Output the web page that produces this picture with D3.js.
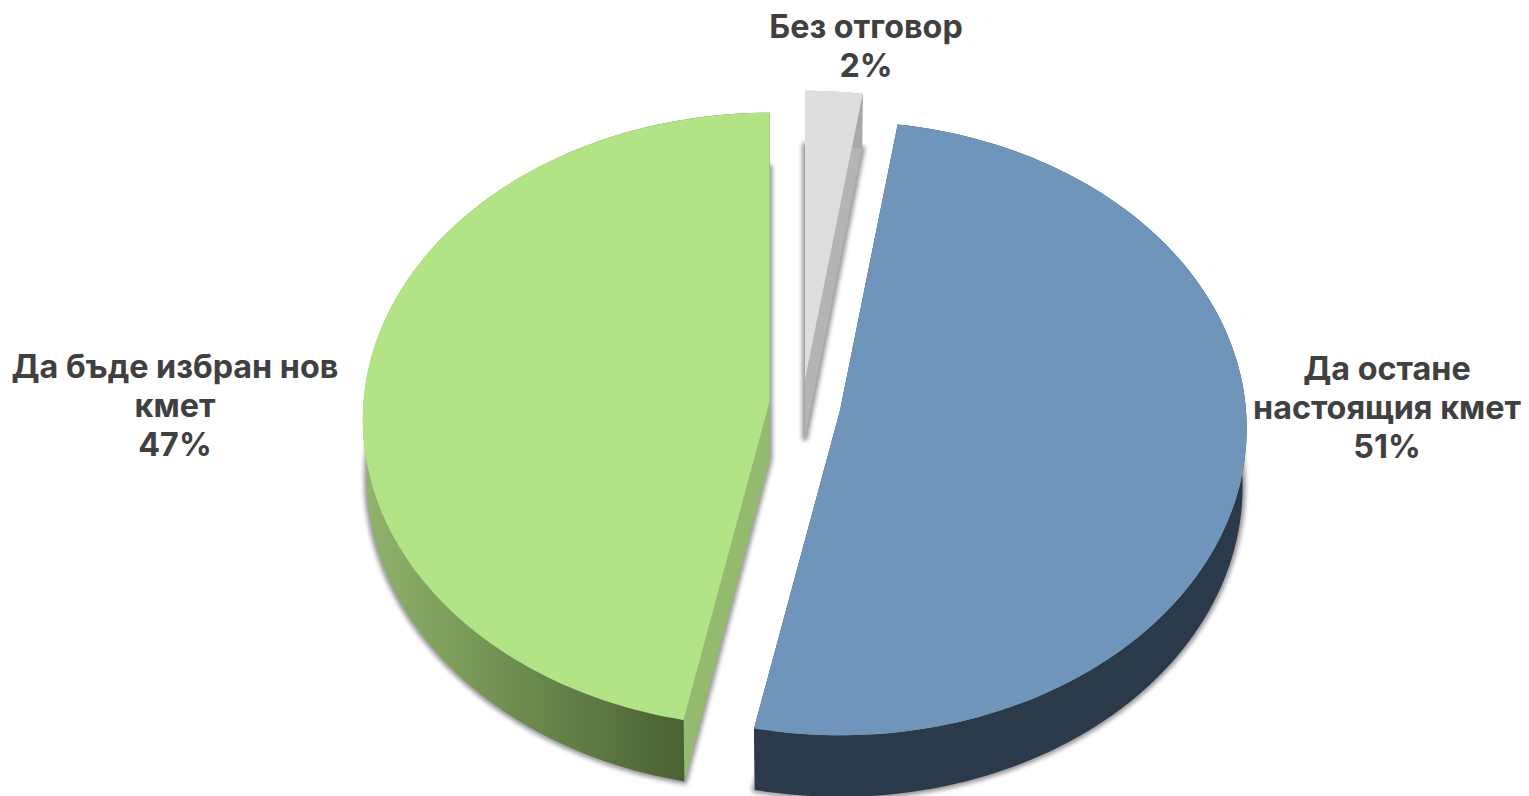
<!DOCTYPE html>
<html>
<head>
<meta charset="utf-8">
<script src="https://cdn.jsdelivr.net/npm/d3@7"></script>
<style>
  html, body { margin: 0; background: #fff; }
  text { font-family: Inter, "Noto Sans", sans-serif; font-weight: 700; fill: #404040; }
</style>
</head>
<body>
<svg id="chart" width="1529" height="796"></svg>
<script>
// chart values, pie order is clockwise from the top
var categories = ["Без отговор", "Да остане настоящия кмет", "Да бъде избран нов кмет"];
var shares = [2.4, 50.8, 46.8];
var labelLines = [["Без отговор"], ["Да остане", "настоящия кмет"], ["Да бъде избран нов", "кмет"]];

var topColors = ["#dedede", "#7095bb", "#b2e384"];
var cutColors = ["#b4b4b4", "#2c3c4d", "#93ba6e"];
var wallFrom = ["#b4b4b4", "#2c3b4b", "#8fb36b"];
var wallTo = ["#a8a8a8", "#2b3a4a", "#4a6132"];

// where each exploded slice has its centre, and where its label sits
var apexX = [805, 840, 769.5];
var apexY = [380, 410.5, 402];
var labelX = [866, 1387, 175];
var labelY = [38, 380, 378];

var rx = 406, ry = 306, depth = 58, persp = 0.058, lowShrink = 0.99;

// perspective tilt of the disc, v is -1 at the back and 1 at the front
function project(slice, angle, r, down) {
  var u = r * Math.sin(angle), v = -r * Math.cos(angle);
  var s = 1 / (1 - persp * v);
  return [apexX[slice] + rx * u * s * (down ? lowShrink : 1), apexY[slice] + ry * v * s + (down ? depth * s : 0)];
}

function arcPoints(slice, d, down) {
  var n = 120;
  return d3.range(n + 1).map(function(i) {
    return project(slice, d.startAngle + (d.endAngle - d.startAngle) * i / n, 1, down);
  });
}

var svg = d3.select("#chart");
var defs = svg.append("defs");
var line = d3.line();

defs.append("filter").attr("id", "soft")
    .attr("x", "-20%").attr("y", "-20%").attr("width", "140%").attr("height", "140%")
  .append("feGaussianBlur").attr("stdDeviation", 2.2);

var pie = d3.pie().sort(null).value(function(d) { return d; });
var slices = pie(shares);

// bottom drawn from the back: green, gray, blue
[2, 0, 1].forEach(function(i) {
  var d = slices[i];
  var g = svg.append("g").attr("class", "slice").attr("data-name", categories[i]);
  var apexTop = project(i, 0, 0, false), apexLow = project(i, 0, 0, true);
  var rimTop = arcPoints(i, d, false), rimLow = arcPoints(i, d, true);

  var grad = defs.append("linearGradient").attr("id", "wall" + i)
      .attr("gradientUnits", "userSpaceOnUse")
      .attr("x1", d3.min(rimLow, function(p) { return p[0]; })).attr("y1", 0)
      .attr("x2", i === 2 ? project(i, d.startAngle, 1, false)[0] : d3.max(rimLow, function(p) { return p[0]; })).attr("y2", 0);
  grad.append("stop").attr("offset", 0).attr("stop-color", wallFrom[i]);
  grad.append("stop").attr("offset", 1).attr("stop-color", wallTo[i]);

  // drop shadow is the bottom face, a bit fatter and blurred
  g.append("path")
      .attr("d", line([apexLow].concat(rimLow)) + "Z")
      .attr("fill", "#555").attr("stroke", "#555").attr("stroke-width", 6)
      .attr("stroke-linejoin", "round").attr("opacity", 0.6)
      .attr("filter", "url(#soft)");

  // the two cut faces
  [d.startAngle, d.endAngle].forEach(function(a) {
    g.append("path")
        .attr("d", line([apexTop, project(i, a, 1, false), project(i, a, 1, true), apexLow]) + "Z")
        .attr("fill", cutColors[i]);
  });

  // outer wall
  g.append("path")
      .attr("d", line(rimTop.concat(rimLow.slice().reverse())) + "Z")
      .attr("fill", "url(#wall" + i + ")");

  // top face
  g.append("path")
      .attr("d", line([apexTop].concat(rimTop)) + "Z")
      .attr("fill", topColors[i]);
});

var lineHeight = 39;
slices.forEach(function(d, i) {
  var label = svg.append("text")
      .attr("text-anchor", "middle")
      .attr("font-size", 32.3);
  labelLines[i].concat(d3.format(".0f")(shares[i]) + "%").forEach(function(t, k) {
    label.append("tspan")
        .attr("x", labelX[i])
        .attr("y", labelY[i] + k * lineHeight)
        .text(t);
  });
});
</script>
</body>
</html>
